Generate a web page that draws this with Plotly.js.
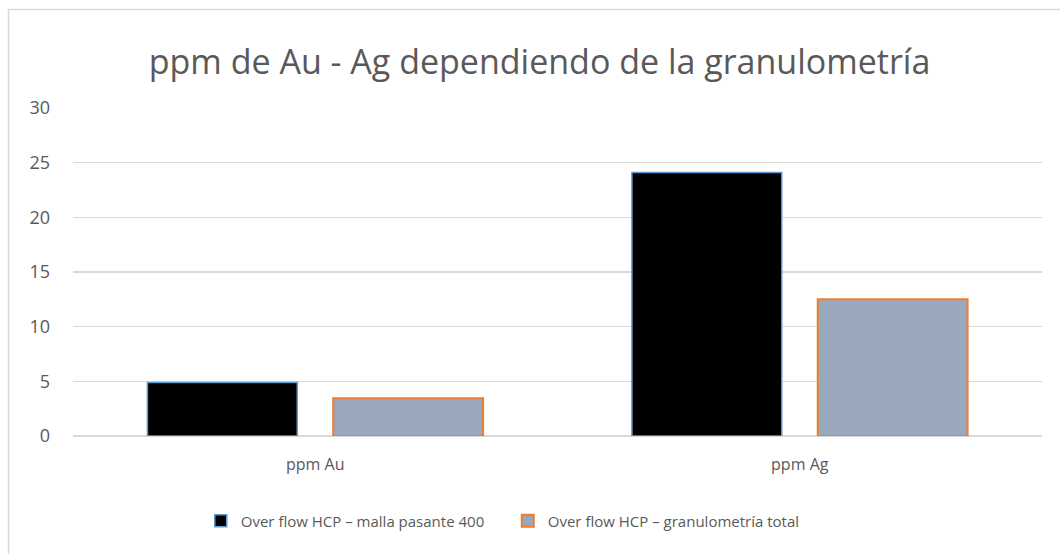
<!DOCTYPE html>
<html>
<head>
<meta charset="utf-8">
<script src="https://cdn.plot.ly/plotly-3.0.1.min.js"></script>
<style>html,body{margin:0;padding:0;background:#fff;}#chart{width:1060px;height:554px;}</style>
</head>
<body>
<div id="chart"></div>
<script>
const categories = ["ppm Au", "ppm Ag"];
const seriesNames = ["Over flow HCP – malla pasante 400", "Over flow HCP – granulometría total"];
const malla400 = [4.9, 24.1];
const granTotal = [3.45, 12.5];
const yTicks = [0, 5, 10, 15, 20, 25, 30];

const FONT = "'Open Sans', 'Noto Sans', sans-serif";
const traces = [
  {type: "bar", name: seriesNames[0], x: categories, y: malla400,
   marker: {color: "#000000", line: {color: "#5B9BD5", width: 1.5}}},
  {type: "bar", name: seriesNames[1], x: categories, y: granTotal,
   marker: {color: "#9AA8BD", line: {color: "#ED7D31", width: 2}}}
];
const L = 73, R = 1042.5, T = 108, B = 436;
const pw = R - L, ph = B - T;
const layout = {
  width: 1060, height: 554,
  margin: {l: L, r: 1060 - R, t: T, b: 554 - B, pad: 0},
  paper_bgcolor: "#ffffff", plot_bgcolor: "#ffffff",
  font: {family: FONT, color: "#595959", size: 16},
  title: {text: "ppm de Au - Ag dependiendo de la granulometría",
          font: {family: FONT, size: 34, color: "#595959"},
          x: 0.509, xanchor: "center", y: 1 - 62/554, yanchor: "middle", xref: "container", yref: "container"},
  barmode: "group", bargap: 0.233, bargroupgap: 0.1935,
  xaxis: {type: "category", showgrid: false, zeroline: false, showline: false,
          tickfont: {family: FONT, size: 16, color: "#595959"}, ticks: "", ticklabelstandoff: 17},
  yaxis: {range: [0, 30], tickvals: yTicks, showgrid: true, gridcolor: "#D9D9D9", gridwidth: 1.2,
          zeroline: true, zerolinecolor: "#D9D9D9", zerolinewidth: 1.2, showline: false,
          tickfont: {family: FONT, size: 18, color: "#595959"}, ticks: "", ticklabelstandoff: 22},
  showlegend: true,
  legend: {orientation: "h", x: (508 - L)/pw, xanchor: "center", y: (B - 521)/ph, yanchor: "middle",
           font: {family: FONT, size: 15, color: "#595959"}, itemwidth: 30, tracegroupgap: 0,
           entrywidth: 262, bgcolor: "rgba(0,0,0,0)"},
  shapes: [{type: "rect", xref: "paper", yref: "paper",
            x0: (8.5 - L)/pw, x1: (1075 - L)/pw, y0: (B - 570)/ph, y1: (B - 9.5)/ph,
            line: {color: "#D9D9D9", width: 1.5}, fillcolor: "rgba(0,0,0,0)", layer: "below"}]
};
Plotly.newPlot("chart", traces, layout, {displayModeBar: false, staticPlot: true});
</script>
</body>
</html>
